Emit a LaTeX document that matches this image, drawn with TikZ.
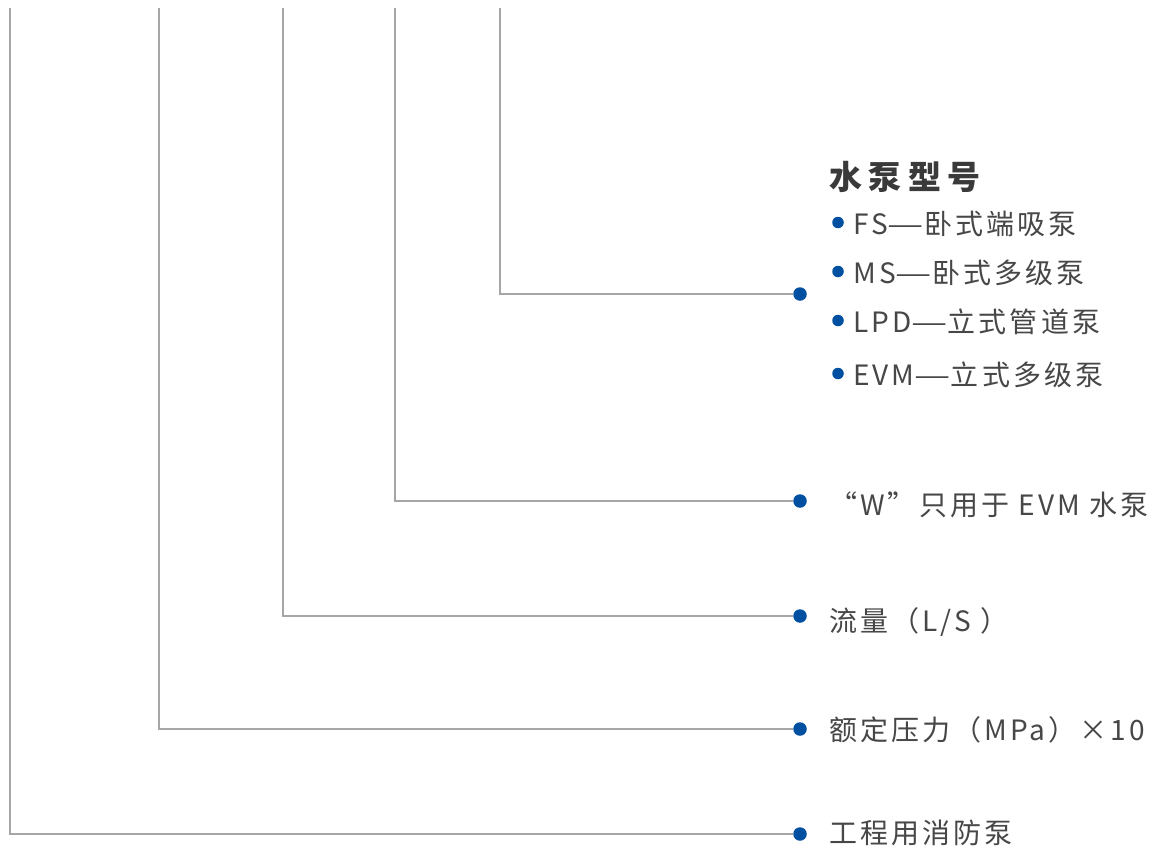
\documentclass[tikz,border=0pt]{standalone}
\usepackage{fontspec}
\usepackage{graphicx}
\newfontfamily\cjk{Noto Sans CJK SC}[LetterSpace=11]
\newfontfamily\cjktitle{Noto Sans CJK SC}[LetterSpace=20]
\newcommand{\longdash}{\scalebox{1.45}[1]{—}}
\definecolor{linegray}{HTML}{A6A6A6}
\definecolor{dotblue}{HTML}{0050A2}
\definecolor{txtgray}{HTML}{474747}
\definecolor{titlegray}{HTML}{3A3A3A}
\begin{document}
\begin{tikzpicture}[x=1pt,y=-1pt,
  conn/.style={draw=linegray,line width=2pt},
  bigdot/.style={circle,fill=dotblue,inner sep=0pt,minimum size=13.5pt},
  smalldot/.style={circle,fill=dotblue,inner sep=0pt,minimum size=11.5pt},
  lbl/.style={anchor=base west,inner sep=0pt,text=txtgray,font=\cjk\fontsize{28}{28}\selectfont},
  ttl/.style={anchor=base west,inner sep=0pt,text=titlegray,font=\cjktitle\bfseries\fontsize{33}{33}\selectfont}]
\useasboundingbox[fill=white] (0,0) rectangle (1172,846);
% top ends of the verticals
\coordinate (t1) at (10,8);
\coordinate (t2) at (159,8);
\coordinate (t3) at (283,8);
\coordinate (t4) at (395,8);
\coordinate (t5) at (500,8);
% dots
\node[bigdot] (d5) at (800,294) {};
\node[bigdot] (d4) at (800,501) {};
\node[bigdot] (d3) at (800,616) {};
\node[bigdot] (d2) at (800,729) {};
\node[bigdot] (d1) at (800,834) {};
% connectors
\draw[conn] (t5) |- (d5);
\draw[conn] (t4) |- (d4);
\draw[conn] (t3) |- (d3);
\draw[conn] (t2) |- (d2);
\draw[conn] (t1) |- (d1);
% title and list
\node[ttl] (title) at (829,189) {水泵型号};
\node[smalldot] (b1) at (838,222.5) {};
\node[smalldot] (b2) at (838,271.5) {};
\node[smalldot] (b3) at (838,320.5) {};
\node[smalldot] (b4) at (838,373.5) {};
\node[lbl] (i1) at (853,234.5) {FS\longdash 卧式端吸泵};
\node[lbl] (i2) at (853,283.5) {MS\longdash 卧式多级泵};
\node[lbl] (i3) at (853,332.5) {LPD\longdash 立式管道泵};
\node[lbl] (i4) at (853,385.5) {EVM\longdash 立式多级泵};
% row labels
\node[lbl] (l4) at (829,515.5) {“W”只用于 EVM 水泵};
\node[lbl] (l3) at (829,631) {流量（L/S ）};
\node[lbl] (l2) at (829,740.5) {额定压力（MPa）×10};
\node[lbl] (l1) at (829,843) {工程用消防泵};
\end{tikzpicture}
\end{document}
